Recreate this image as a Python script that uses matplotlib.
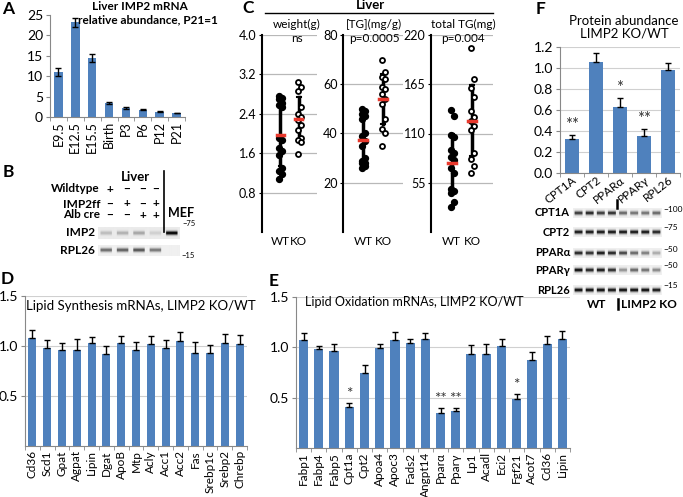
import numpy as np
import matplotlib
matplotlib.use("Agg")
import matplotlib.pyplot as plt

plt.rcParams['font.family'] = ['Lato', 'DejaVu Sans']
plt.rcParams['font.size'] = 9

W, H = 683, 497
BLUE = '#4F81BD'

# ---- data ----
a_labels = ['E9.5', 'E12.5', 'E15.5', 'Birth', 'P3', 'P6', 'P12', 'P21']
a_vals = [11.0, 23.2, 14.5, 3.5, 2.2, 1.8, 1.3, 1.0]
a_err = [1.0, 1.1, 1.0, 0.2, 0.2, 0.1, 0.1, 0.1]

w_wt = [2.76, 2.72, 2.70, 2.62, 2.58, 2.54, 1.90, 1.87, 1.70, 1.65, 1.56, 1.30, 1.24, 1.18, 1.08]
w_ko = [3.05, 2.95, 2.86, 2.54, 2.40, 2.34, 2.27, 2.17, 2.07, 1.90, 1.87, 1.83, 1.58]
tg_wt = [50, 49, 48, 47, 46, 40, 39, 37, 35, 30, 29, 28, 28, 27, 26]
tg_ko = [70, 65, 63, 62, 59, 58, 56, 54, 52, 46, 42, 40, 35]
tot_wt = [136, 130, 108, 106, 92, 88, 84, 80, 72, 66, 48, 46, 44, 34, 28]
tot_ko = [206, 171, 161, 151, 135, 128, 124, 118, 114, 88, 82, 74, 66]

d_labels = ['Cd36', 'Scd1', 'Gpat', 'Agpat', 'Lipin', 'Dgat', 'ApoB', 'Mtp', 'Acly',
            'Acc1', 'Acc2', 'Fas', 'Srebp1c', 'Srebp2', 'Chrebp']
d_vals = [1.08, 0.98, 0.96, 0.96, 1.03, 0.92, 1.03, 0.96, 1.02, 0.98, 1.05, 0.93, 0.93, 1.03, 1.02]
d_err = [0.08, 0.08, 0.07, 0.11, 0.06, 0.08, 0.07, 0.08, 0.08, 0.08, 0.09, 0.11, 0.08, 0.09, 0.09]

e_labels = ['Fabp1', 'Fabp4', 'Fabp5', 'Cpt1a', 'Cpt2', 'Apoa4', 'Apoc3', 'Fads2', 'Angpt14',
            'Pparα', 'Pparγ', 'Lp1', 'Acadl', 'Eci2', 'Fgf21', 'Acot7', 'Cd36', 'Lipin']
e_vals = [1.07, 0.98, 0.96, 0.41, 0.75, 0.99, 1.07, 1.04, 1.08, 0.35, 0.37, 0.93, 0.93, 1.01,
          0.49, 0.87, 1.03, 1.08]
e_err = [0.07, 0.03, 0.07, 0.04, 0.07, 0.04, 0.08, 0.04, 0.06, 0.05, 0.03, 0.09, 0.10, 0.07,
         0.05, 0.08, 0.08, 0.08]
e_stars = ['', '', '', '*', '', '', '', '', '', '**', '**', '', '', '', '*', '', '', '']

f_labels = ['CPT1A', 'CPT2', 'PPARα', 'PPARγ', 'RPL26']
f_vals = [0.32, 1.06, 0.63, 0.35, 0.98]
f_err = [0.04, 0.08, 0.08, 0.07, 0.07]
f_stars = ['**', '', '*', '**', '']

b_imp2 = [0.2, 0.25, 0.3, 0.12, 1.0]
b_rpl26 = [0.55, 0.6, 0.65, 0.5, 0.0]
f_blot_rows = ['CPT1A', 'CPT2', 'PPARα', 'PPARγ', 'RPL26']
f_blot = [[0.8, 0.9, 0.8, 0.85, 0.6, 0.55, 0.55, 0.6],
          [0.95, 0.95, 0.95, 0.95, 0.95, 0.95, 0.95, 0.9],
          [0.9, 0.85, 0.95, 0.9, 0.75, 0.6, 0.5, 0.3],
          [1.0, 0.9, 0.95, 0.85, 0.4, 0.6, 0.55, 0.45],
          [1.0, 1.0, 1.0, 0.95, 1.0, 1.0, 1.0, 0.95]]
f_markers = ['100', '75', '50', '50', '15']


def px(x0, y0, x1, y1):
    return [x0 / W, 1 - y1 / H, (x1 - x0) / W, (y1 - y0) / H]


fig = plt.figure(figsize=(W / 100, H / 100), dpi=100)


def excel_bars(ax, labels, vals, err, ylim, yticks, grid=True, rot=90, both=False, width=0.6):
    x = np.arange(len(vals))
    if both:
        yerr = err
    else:
        yerr = [np.zeros(len(err)), err]
    ax.bar(x, vals, width=width, color=BLUE, zorder=2)
    ax.errorbar(x, vals, yerr=yerr, fmt='none', ecolor='black', elinewidth=1.0,
                capsize=2.5, capthick=1.0, zorder=3)
    ax.set_xlim(-0.5, len(vals) - 0.5)
    ax.set_ylim(*ylim)
    ax.set_yticks(yticks)
    ax.set_xticks(np.arange(len(vals) + 1) - 0.5, minor=True)
    ax.set_xticks(x)
    if rot == 90:
        ax.set_xticklabels(labels, rotation=90)
    else:
        ax.set_xticklabels(labels, rotation=rot, ha='right', rotation_mode='anchor')
    ax.tick_params(axis='x', which='major', length=0, pad=3)
    ax.tick_params(axis='x', which='minor', length=3, color='#888888')
    ax.tick_params(axis='y', length=3, color='#888888', pad=2)
    for s in ['top', 'right']:
        ax.spines[s].set_visible(False)
    ax.spines['left'].set_color('#888888')
    ax.spines['bottom'].set_color('#888888')
    if grid:
        ax.yaxis.grid(True, color='#d0d0d0', lw=0.8, zorder=0)
    ax.set_axisbelow(True)
    ax.patch.set_alpha(0)
    return x


# ---- A ----
axA = fig.add_axes(px(50, 15, 185, 117))
excel_bars(axA, a_labels, a_vals, a_err, (0, 25), [0, 5, 10, 15, 20, 25], grid=False,
           both=True, width=0.5)
axA.tick_params(axis='y', labelsize=10)
axA.tick_params(axis='x', labelsize=9)

# ---- C ----
def scatter_panel(rect, wt, ko, ylim, yticks, fmt):
    ax = fig.add_axes(px(*rect))
    for i, (vals, filled) in enumerate([(wt, True), (ko, False)]):
        vals = np.array(vals, float)
        off = np.array([0.1 if k % 2 else -0.05 for k in range(len(vals))])
        m, s = vals.mean(), vals.std()
        ax.plot([i, i], [m - s, m + s], color='black', lw=2.5, zorder=2)
        ax.plot([i - 0.1, i + 0.1], [m + s, m + s], color='black', lw=1.5, zorder=2)
        ax.plot([i - 0.1, i + 0.1], [m - s, m - s], color='black', lw=1.5, zorder=2)
        if filled:
            ax.scatter(i + off, vals, s=18, color='black', zorder=3)
        else:
            ax.scatter(i + off, vals, s=13, facecolor='white', edgecolor='black',
                       linewidth=1.3, zorder=3)
        ax.plot([i - 0.2, i + 0.2], [m, m], color='#e8382c', lw=2.5, zorder=4)
    ax.set_xlim(-1, 2)
    ax.set_ylim(*ylim)
    ax.set_yticks(yticks)
    ax.set_yticklabels([fmt % t for t in yticks])
    ax.set_xticks([0, 1])
    ax.set_xticklabels(['WT', 'KO'], fontsize=8.5)
    ax.tick_params(axis='x', length=0, pad=3)
    ax.tick_params(axis='y', length=2.5, pad=1.5, labelsize=9)
    for s in ['top', 'right', 'bottom']:
        ax.spines[s].set_visible(False)
    ax.spines['left'].set_linewidth(1.5)
    ax.yaxis.grid(True, color='#b8b8b8', lw=0.9, zorder=0)
    ax.set_axisbelow(True)
    ax.patch.set_alpha(0)
    return ax


scatter_panel((262, 35, 317, 232), w_wt, w_ko, (0, 4.0), [0.8, 1.6, 2.4, 3.2, 4.0], '%.1f')
scatter_panel((343, 35, 403, 232), tg_wt, tg_ko, (0, 80), [20, 40, 60, 80], '%d')
scatter_panel((431, 35, 493, 232), tot_wt, tot_ko, (0, 220), [55, 110, 165, 220], '%d')

# ---- D ----
axD = fig.add_axes(px(25, 296, 247, 446))
excel_bars(axD, d_labels, d_vals, d_err, (0, 1.5), [0.5, 1.0, 1.5], width=0.55)
axD.set_yticklabels(['0.5', '1.0', '1.5'], fontsize=10)
axD.tick_params(axis='x', labelsize=8.5)
axD.text(0.52, 0.93, 'Lipid Synthesis mRNAs, LIMP2 KO/WT', transform=axD.transAxes,
         ha='center', va='center', fontsize=9.5)

# ---- E ----
axE = fig.add_axes(px(296, 297, 570, 448))
xe = excel_bars(axE, e_labels, e_vals, e_err, (0, 1.5), [0.5, 1.0, 1.5], width=0.6)
axE.set_yticklabels(['0.5', '1.0', '1.5'], fontsize=10)
axE.tick_params(axis='x', labelsize=8.5)
axE.text(0.43, 0.97, 'Lipid Oxidation mRNAs, LIMP2 KO/WT', transform=axE.transAxes,
         ha='center', va='center', fontsize=9)
for xi, v, e, st in zip(xe, e_vals, e_err, e_stars):
    if st:
        axE.text(xi, v + e + 0.02, st, ha='center', va='bottom', fontsize=11, color='#333333')

# ---- F ----
axF = fig.add_axes(px(560, 47, 680, 173))
xf = excel_bars(axF, f_labels, f_vals, f_err, (0, 1.2), [0, 0.2, 0.4, 0.6, 0.8, 1.0, 1.2],
                rot=38, width=0.55)
axF.set_yticklabels(['%.1f' % t for t in [0, 0.2, 0.4, 0.6, 0.8, 1.0, 1.2]], fontsize=10)
axF.tick_params(axis='x', labelsize=8.5, pad=1)
for xi, v, e, st in zip(xf, f_vals, f_err, f_stars):
    if st:
        axF.text(xi, v + e + 0.02, st, ha='center', va='bottom', fontsize=12, color='#333333')


# ---- blots ----
def blot(rect, levels, bg=0.93, lane_w=20, sigma=1.4, gap=3):
    ax = fig.add_axes(px(*rect))
    n = len(levels)
    img = np.full((12, n * lane_w), bg)
    rows = np.exp(-0.5 * ((np.arange(12) - 5.5) / sigma) ** 2)
    for i, lev in enumerate(levels):
        c0 = i * lane_w + gap
        c1 = (i + 1) * lane_w - gap
        img[:, c0:c1] -= lev * bg * rows[:, None]
    ax.imshow(np.clip(img, 0, 1), cmap='gray', vmin=0, vmax=1, aspect='auto',
              interpolation='bilinear')
    ax.set_xticks([])
    ax.set_yticks([])
    for s in ax.spines.values():
        s.set_visible(False)
    return ax


blot((98, 227, 180, 239), b_imp2, bg=0.92)
blot((98, 245, 180, 256), b_rpl26, bg=0.94)
row_y = [213, 232, 253, 270, 290]
for yy, lev in zip(row_y, f_blot):
    blot((573, yy - 5, 662, yy + 5), lev, bg=0.94, lane_w=14, sigma=1.6, gap=2)

# ---- overlay for labels ----
ov = fig.add_axes([0, 0, 1, 1])
ov.set_xlim(0, W)
ov.set_ylim(H, 0)
ov.axis('off')
ov.patch.set_alpha(0)

for letter, x, y in [('A', 8, 9), ('B', 8, 172), ('C', 248, 8), ('D', 7, 279),
                     ('E', 274, 281), ('F', 541, 9)]:
    ov.text(x, y, letter, fontsize=12.5, fontweight='bold', va='center', ha='center')

ov.text(140, 6, 'Liver IMP2 mRNA', ha='center', va='center', fontsize=8.5, fontweight='bold')
ov.text(148, 20, 'relative abundance, P21=1', ha='center', va='center', fontsize=8.5,
        fontweight='bold')

# B labels
ov.text(135, 177, 'Liver', ha='center', va='center', fontsize=9.5, fontweight='bold')
lane_x = [110, 127, 143, 156]
b_rows = [('Wildtype', 189, ['+', '−', '−', '−']),
          ('IMP2ff', 204, ['−', '+', '−', '+']),
          ('Alb cre', 215, ['−', '−', '+', '+'])]
for name, yy, signs in b_rows:
    ov.text(100, yy, name, ha='right', va='center', fontsize=8.5, fontweight='bold')
    for xx, sg in zip(lane_x, signs):
        ov.text(xx, yy, sg, ha='center', va='center', fontsize=8.5, fontweight='bold')
ov.plot([164, 164], [171, 232], color='black', lw=1.2)
ov.text(181, 213, 'MEF', ha='center', va='center', fontsize=9, fontweight='bold')
ov.text(182, 224, '−75', ha='left', va='center', fontsize=5.5)
ov.text(95, 233, 'IMP2', ha='right', va='center', fontsize=8.5, fontweight='bold')
ov.text(95, 250, 'RPL26', ha='right', va='center', fontsize=8.5, fontweight='bold')
ov.text(181, 255, '−15', ha='left', va='center', fontsize=5.5)

# C labels
ov.text(370, 5, 'Liver', ha='center', va='center', fontsize=9.5, fontweight='bold')
ov.plot([265, 493], [13, 13], color='black', lw=1.0)
for xc, t1, t2 in [(297, 'weight(g)', 'ns'), (374, '[TG](mg/g)', 'p=0.0005'),
                   (463, 'total TG(mg)', 'p=0.004')]:
    ov.text(xc, 24, t1, ha='center', va='center', fontsize=8.5)
    ov.text(xc, 38, t2, ha='center', va='center', fontsize=8.5)

# F labels
ov.text(624, 21, 'Protein abundance', ha='center', va='center', fontsize=9.5)
ov.text(624, 34, 'LIMP2 KO/WT', ha='center', va='center', fontsize=9.5)
ov.plot([617, 617], [200, 208], color='black', lw=1.8)
for yy, name, mk in zip(row_y, f_blot_rows, f_markers):
    ov.text(570, yy, name, ha='right', va='center', fontsize=8, fontweight='bold')
    ov.text(663, yy - 4, '−' + mk, ha='left', va='center', fontsize=6)
ov.text(597, 304, 'WT', ha='center', va='center', fontsize=8.5, fontweight='bold')
ov.plot([618, 618], [299, 309], color='black', lw=1.8)
ov.text(621, 304, 'LIMP2 KO', ha='left', va='center', fontsize=8.5, fontweight='bold')

fig.savefig('out.png', dpi=100)
